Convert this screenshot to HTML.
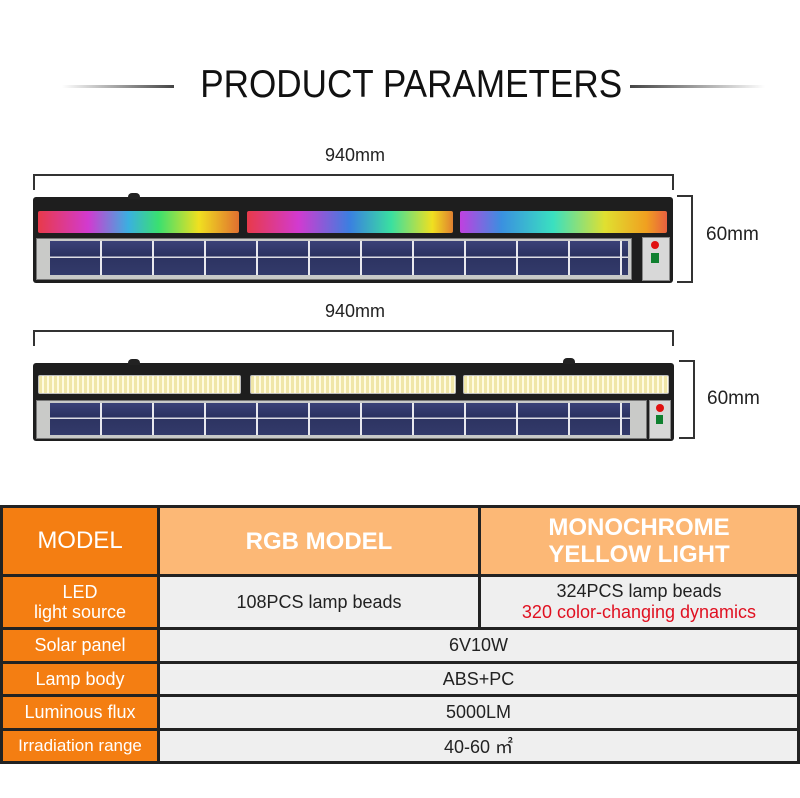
<!DOCTYPE html>
<html><head><style>
*{margin:0;padding:0;box-sizing:border-box}
body{width:800px;height:798px;background:#fff;position:relative;overflow:hidden;font-family:"Liberation Sans",sans-serif}
.a{position:absolute}
.t{white-space:nowrap;text-align:center}
.body{position:absolute;background:#1e1e1e;border-radius:3px}
.strip{position:absolute;border-radius:2px}
.panel{position:absolute;background:#c9cac8;border:1px solid #777}
.cells{position:absolute;background:
 repeating-linear-gradient(90deg,transparent 0 50px,#e8e8ee 50px 52px),
 linear-gradient(180deg,#3b4278 0,#2a3160 45%,#dcdce4 45%,#dcdce4 50%,#2d3462 50%,#333a6a 100%);}
.ctrl{position:absolute;background:#d8d8d8;border:1px solid #888}
table{position:absolute;left:0;top:505px;width:800px;border-collapse:collapse}
td{border:3px solid #222;text-align:center;font-size:18px;color:#222}
td.l{background:#f47e12;color:#fff;width:157px}
td.h{background:#fcb876;color:#fff;font-weight:bold;font-size:24px;line-height:27px}
td.v{background:#efefef}
.mono{background:repeating-linear-gradient(90deg,#f0e6a8 0 3px,#fffbe0 3px 5px);border:1px solid #bbb}
</style></head><body>
<div class="a" style="left:62px;top:85px;width:112px;height:3px;background:linear-gradient(90deg,#fff,#444)"></div>
<div class="a" style="left:630px;top:85px;width:135px;height:3px;background:linear-gradient(90deg,#444,#fff)"></div>
<div class="a t" style="left:178px;top:63px;width:444px;font-size:39px;color:#111;transform:scaleX(.9)">PRODUCT PARAMETERS</div>

<div class="a t" style="left:300px;top:145px;width:110px;font-size:18px;color:#222">940mm</div>
<div class="a" style="left:33px;top:174px;width:641px;height:16px;border:2px solid #333;border-bottom:none"></div>
<div class="a" style="left:677px;top:195px;width:16px;height:88px;border:2px solid #333;border-left:none"></div>
<div class="a" style="left:706px;top:224px;font-size:19px;color:#222">60mm</div>

<div class="body" style="left:33px;top:197px;width:640px;height:86px"></div>
<div class="a" style="left:128px;top:193px;width:12px;height:6px;background:#222;border-radius:4px 4px 0 0"></div>
<div class="strip" style="left:38px;top:211px;width:201px;height:22px;background:linear-gradient(90deg,#e83a4a,#d23ad0 25%,#3ab0e0 45%,#3ae070 60%,#f0e020 80%,#e07030)"></div>
<div class="strip" style="left:247px;top:211px;width:206px;height:22px;background:linear-gradient(90deg,#e83a4a,#d23ad0 25%,#3a80e0 50%,#3ae0a0 70%,#f0e020 90%,#e08030)"></div>
<div class="strip" style="left:460px;top:211px;width:207px;height:22px;background:linear-gradient(90deg,#c040e0,#3a90e0 20%,#3ae0c0 45%,#e0e030 70%,#f0a020 90%,#e86040)"></div>
<div class="panel" style="left:36px;top:238px;width:596px;height:42px"></div>
<div class="cells" style="left:50px;top:241px;width:578px;height:34px"></div>
<div class="ctrl" style="left:642px;top:237px;width:28px;height:44px"></div>
<div class="a" style="left:651px;top:241px;width:8px;height:8px;background:#e01010;border-radius:50%"></div>
<div class="a" style="left:651px;top:253px;width:8px;height:10px;background:#108030"></div>

<div class="a t" style="left:300px;top:301px;width:110px;font-size:18px;color:#222">940mm</div>
<div class="a" style="left:33px;top:330px;width:641px;height:16px;border:2px solid #333;border-bottom:none"></div>
<div class="a" style="left:679px;top:360px;width:16px;height:79px;border:2px solid #333;border-left:none"></div>
<div class="a" style="left:707px;top:388px;font-size:19px;color:#222">60mm</div>

<div class="body" style="left:33px;top:363px;width:641px;height:78px"></div>
<div class="a" style="left:128px;top:359px;width:12px;height:6px;background:#222;border-radius:4px 4px 0 0"></div>
<div class="a" style="left:563px;top:358px;width:12px;height:6px;background:#222;border-radius:4px 4px 0 0"></div>
<div class="strip mono" style="left:38px;top:375px;width:203px;height:19px"></div>
<div class="strip mono" style="left:250px;top:375px;width:206px;height:19px"></div>
<div class="strip mono" style="left:463px;top:375px;width:206px;height:19px"></div>
<div class="panel" style="left:36px;top:400px;width:611px;height:39px"></div>
<div class="cells" style="left:50px;top:403px;width:580px;height:32px"></div>
<div class="ctrl" style="left:649px;top:400px;width:22px;height:39px"></div>
<div class="a" style="left:656px;top:404px;width:8px;height:8px;background:#e01010;border-radius:50%"></div>
<div class="a" style="left:656px;top:415px;width:7px;height:9px;background:#108030"></div>

<table>
<tr style="height:69px"><td class="l" style="font-size:24px">MODEL</td><td class="h" style="width:321px">RGB MODEL</td><td class="h">MONOCHROME<br>YELLOW LIGHT</td></tr>
<tr style="height:53px"><td class="l" style="line-height:20px">LED<br>light source</td><td class="v">108PCS lamp beads</td><td class="v" style="line-height:21px">324PCS lamp beads<br><span style="color:#e01020">320 color-changing dynamics</span></td></tr>
<tr style="height:34px"><td class="l">Solar panel</td><td class="v" colspan="2">6V10W</td></tr>
<tr style="height:33px"><td class="l">Lamp body</td><td class="v" colspan="2">ABS+PC</td></tr>
<tr style="height:34px"><td class="l">Luminous flux</td><td class="v" colspan="2">5000LM</td></tr>
<tr style="height:33px"><td class="l" style="font-size:17px">Irradiation range</td><td class="v" colspan="2">40-60 ㎡</td></tr>
</table>
</body></html>
